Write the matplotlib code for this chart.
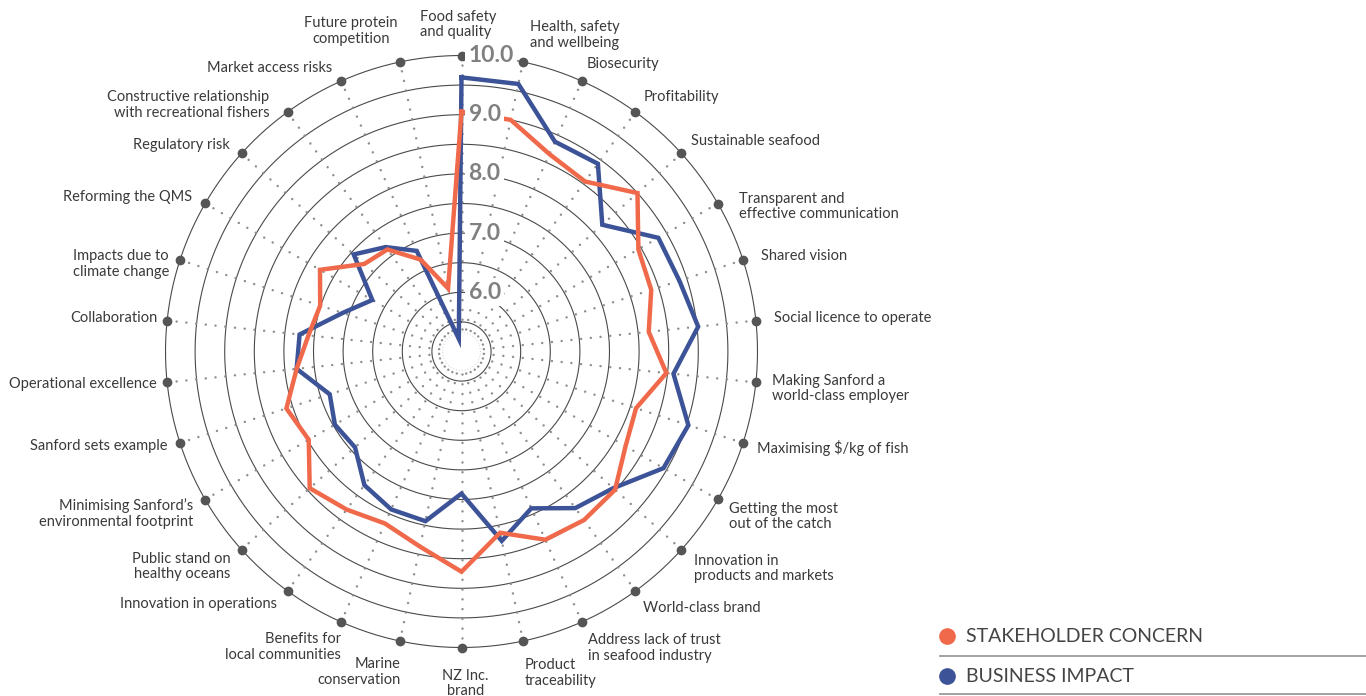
import matplotlib.pyplot as plt
from matplotlib.lines import Line2D
import numpy as np

plt.rcParams['font.family'] = ['Lato', 'DejaVu Sans']

# categorias (sentido horario, comecando no topo)
categories = [
    "Food safety\nand quality", "Health, safety\nand wellbeing", "Biosecurity",
    "Profitability", "Sustainable seafood", "Transparent and\neffective communication",
    "Shared vision", "Social licence to operate", "Making Sanford a\nworld-class employer",
    "Maximising \\$/kg of fish", "Getting the most\nout of the catch",
    "Innovation in\nproducts and markets", "World-class brand",
    "Address lack of trust\nin seafood industry", "Product\ntraceability", "NZ Inc.\nbrand",
    "Marine\nconservation", "Benefits for\nlocal communities", "Innovation in operations",
    "Public stand on\nhealthy oceans", "Minimising Sanford\u2019s\nenvironmental footprint",
    "Sanford sets example", "Operational excellence", "Collaboration",
    "Impacts due to\nclimate change", "Reforming the QMS", "Regulatory risk",
    "Constructive relationship\nwith recreational fishers", "Market access risks",
    "Future protein\ncompetition",
]

stakeholder = [9.05, 9.0, 8.65, 8.55, 9.0, 8.45, 8.37, 8.18, 8.48, 8.1,
               8.2, 8.49, 8.52, 8.48, 8.13, 8.72, 8.37, 8.18, 8.3, 8.45,
               7.98, 8.11, 7.8, 7.6, 7.51, 7.76, 7.21, 7.13, 6.7, 6.09]
business = [9.63, 9.62, 8.88, 8.92, 8.2, 8.84, 8.87, 9.02, 8.6, 9.03,
            8.94, 8.45, 8.27, 7.9, 8.27, 7.4, 7.93, 7.92, 7.79, 7.42,
            7.47, 7.34, 7.8, 7.75, 7.11, 6.74, 7.45, 7.18, 6.86, 5.22]

tick_values = [6.0, 7.0, 8.0, 9.0, 10.0]
ring_values = [5.5, 6.0, 6.5, 7.0, 7.5, 8.0, 8.5, 9.0, 9.5, 10.0]

# posicao dos rotulos: (dx, dy em pixels, alinhamento, alinhamento multi-linha)
label_pos = [
    (-42, 31, 'left', 'left'), (7, 27, 'left', 'left'), (5, 17, 'left', 'left'),
    (8, 15, 'left', 'left'), (10, 12, 'left', 'left'), (21, -3, 'left', 'left'),
    (18, 4, 'left', 'left'), (18, 3, 'left', 'left'), (16, -6, 'left', 'left'),
    (14, -5, 'left', 'left'), (11, -17, 'left', 'left'), (13, -19, 'left', 'left'),
    (8, -17, 'left', 'left'), (6, -26, 'left', 'left'), (2, -32, 'left', 'left'),
    (4, -36, 'center', 'center'), (1, -31, 'right', 'right'), (0, -25, 'right', 'right'),
    (-11, -13, 'right', 'right'), (-11, -17, 'right', 'right'), (-12, -14, 'right', 'right'),
    (-12, -3, 'right', 'right'), (-10, -2, 'right', 'right'), (-10, 3, 'right', 'right'),
    (-11, -4, 'right', 'left'), (-13, 6, 'right', 'right'), (-12, 8, 'right', 'right'),
    (-18, 7, 'right', 'right'), (-9, 13, 'right', 'right'), (-49, 31, 'center', 'center'),
]

orange = '#F0694A'
blue = '#3D5398'

n = len(categories)
theta = np.arange(n) * 2 * np.pi / n
circ = np.linspace(0, 2 * np.pi, 400)

fig = plt.figure(figsize=(13.66, 6.96), dpi=100)
ax = fig.add_axes([165.5 / 1366, 48.5 / 696, 592 / 1366, 592 / 696], projection='polar')
ax.set_theta_zero_location('N')
ax.set_theta_direction(-1)
ax.set_ylim(5, 10)
ax.set_axis_off()

# aneis
for rv in ring_values:
    ax.plot(circ, np.full_like(circ, rv), color='#4a4a4a', lw=0.8, clip_on=False, zorder=1)
ax.plot(circ, np.full_like(circ, 5.32), color='#cfcfcf', lw=0.7, ls=(0, (1, 2)), zorder=1)

# raios pontilhados
for t in theta:
    ax.plot([t, t], [5.38, 9.9], color='#8f8f8f', lw=1.8, ls=(0, (0.01, 3.9)),
            dash_capstyle='round', zorder=1)
ax.plot(theta, np.full(n, 10.0), 'o', color='#555555', ms=6, clip_on=False, zorder=3)

# series
th = np.append(theta, theta[0])
ax.plot(th, np.append(business, business[0]), color=blue, lw=3.2, zorder=4,
        solid_joinstyle='miter')
ax.plot(th, np.append(stakeholder, stakeholder[0]), color=orange, lw=3.2, zorder=5,
        solid_joinstyle='miter')

# valores da escala
for v in tick_values:
    ax.annotate("%.1f" % v, xy=(0, v), xytext=(7, 0), textcoords='offset pixels',
                ha='left', va='center', fontsize=16.5, fontweight='bold', color='#808080',
                bbox=dict(boxstyle='square,pad=0.15', fc='white', ec='none'), zorder=6,
                annotation_clip=False)

# rotulos das categorias
for i, lab in enumerate(categories):
    dx, dy, ha, ma = label_pos[i]
    ax.annotate(lab, xy=(theta[i], 10), xytext=(dx, dy), textcoords='offset pixels',
                ha=ha, va='center', multialignment=ma, fontsize=10.5, color='#3a3a3a',
                linespacing=1.12, annotation_clip=False)

# legenda
fig.add_artist(Line2D([947 / 1366], [1 - 636 / 696], marker='o', ms=11, color=orange,
                      transform=fig.transFigure))
fig.add_artist(Line2D([947 / 1366], [1 - 676 / 696], marker='o', ms=11, color=blue,
                      transform=fig.transFigure))
fig.text(966 / 1366, 1 - 637 / 696, "STAKEHOLDER CONCERN", fontsize=14, color='#444444',
         va='center', ha='left')
fig.text(966 / 1366, 1 - 677 / 696, "BUSINESS IMPACT", fontsize=14, color='#444444',
         va='center', ha='left')
for yl in [656, 694]:
    fig.add_artist(Line2D([940 / 1366, 1], [1 - yl / 696, 1 - yl / 696], color='#9a9a9a',
                          lw=1.3, transform=fig.transFigure))

fig.savefig('out.png', dpi=100)
